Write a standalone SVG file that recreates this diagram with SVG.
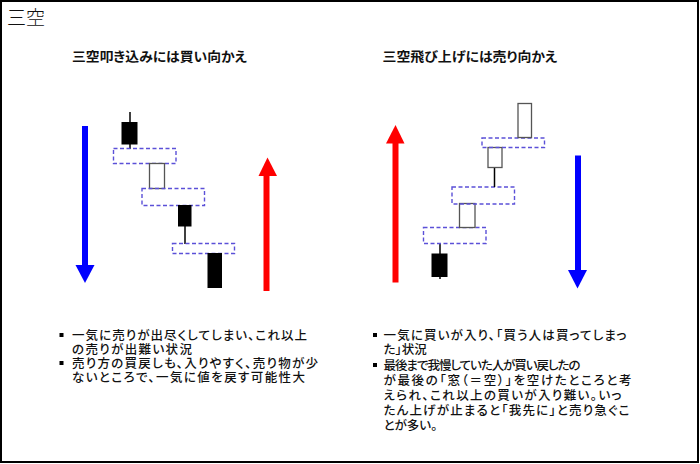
<svg xmlns="http://www.w3.org/2000/svg" width="700" height="464" viewBox="0 0 700 464">
<style>
.t{font-family:"Noto Sans CJK JP","Noto Sans CJK SC",sans-serif;fill:#111;font-feature-settings:"palt"}
.title{font-size:19px;font-weight:300}
.sub{font-size:13px;font-weight:bold}
.body{font-family:"Liberation Sans","Noto Sans CJK JP","Noto Sans CJK SC",sans-serif;font-size:12.5px;font-weight:500}
.gap{fill:none;stroke:#5b50d8;stroke-width:1.4;stroke-dasharray:4 2.5}
.blk{fill:#000;stroke:#000;stroke-width:1}
.wht{fill:#fff;stroke:#555;stroke-width:1.3}
.wick{stroke:#000;stroke-width:1.5}
</style>
<rect x="0" y="0" width="700" height="464" fill="#fff"/>
<rect x="1" y="1" width="697" height="461" fill="none" stroke="#000" stroke-width="2"/>
<text class="t title" x="7" y="25">三空</text>

<g id="left-panel">
<text class="t sub" x="72" y="61" textLength="175" lengthAdjust="spacingAndGlyphs">三空叩き込みには買い向かえ</text>
<g id="L-candle1"><line class="wick" x1="130" y1="112" x2="130" y2="149"/><rect class="blk" x="122" y="122.5" width="15" height="21.5"/></g>
<g id="L-gap1"><rect class="gap" x="113.5" y="148.5" width="62.5" height="15"/></g>
<g id="L-candle2"><rect class="wht" x="149.5" y="163.5" width="15" height="25"/></g>
<g id="L-gap2"><rect class="gap" x="142" y="188.5" width="62.5" height="17"/></g>
<g id="L-candle3"><line class="wick" x1="185" y1="220" x2="185" y2="244"/><rect class="blk" x="178.5" y="205.5" width="12.5" height="20.5"/></g>
<g id="L-gap3"><rect class="gap" x="172.5" y="243.5" width="62" height="10"/></g>
<g id="L-candle4"><rect class="blk" x="208" y="253.5" width="13.5" height="34"/></g>
</g>

<g id="right-panel">
<text class="t sub" x="382.5" y="61" textLength="175" lengthAdjust="spacingAndGlyphs">三空飛び上げには売り向かえ</text>
<g id="R-candle1"><line class="wick" x1="440" y1="243.5" x2="440" y2="279"/><rect class="blk" x="432" y="254" width="15" height="22.5"/></g>
<g id="R-gap1"><rect class="gap" x="423.5" y="227.5" width="62.5" height="16"/></g>
<g id="R-candle2"><rect class="wht" x="459.5" y="203.5" width="15.5" height="24"/></g>
<g id="R-gap2"><rect class="gap" x="452" y="187" width="62.5" height="17"/></g>
<g id="R-candle3"><line class="wick" x1="494.5" y1="167" x2="494.5" y2="187"/><rect class="wht" x="488" y="147.5" width="14" height="20"/></g>
<g id="R-gap3"><rect class="gap" x="482" y="138" width="62.5" height="9.5"/></g>
<g id="R-candle4"><rect class="wht" x="518" y="103.5" width="13.5" height="34"/></g>
</g>

<g id="arrows">
<g id="L-down-arrow"><line x1="85" y1="126" x2="85" y2="266" stroke="#0000ff" stroke-width="6"/><polygon points="75.5,265 94.5,265 85,283" fill="#0000ff"/></g>
<g id="L-up-arrow"><line x1="266.5" y1="291" x2="266.5" y2="175" stroke="#ff0000" stroke-width="6"/><polygon points="258.5,176 277,176 267.5,157.5" fill="#ff0000"/></g>
<g id="R-up-arrow"><line x1="395.5" y1="282.5" x2="395.5" y2="142" stroke="#ff0000" stroke-width="6"/><polygon points="386,143.5 404.5,143.5 395.5,125" fill="#ff0000"/></g>
<g id="R-down-arrow"><line x1="578" y1="155.5" x2="578" y2="271" stroke="#0000ff" stroke-width="6"/><polygon points="568,270 587,270 577.5,288.5" fill="#0000ff"/></g>
</g>

<g id="left-notes">
<rect x="59.5" y="333" width="4" height="4" fill="#000"/>
<rect x="59.5" y="361" width="4" height="4" fill="#000"/>
<text class="t body"><tspan x="72" y="339.5" textLength="235">一気に売りが出尽くしてしまい、これ以上</tspan><tspan x="72" y="353.5" textLength="120">の売りが出難い状況</tspan><tspan x="72" y="367.5" textLength="246">売り方の買戻しも、入りやすく、売り物が少</tspan><tspan x="72" y="381.5" textLength="233">ないところで、一気に値を戻す可能性大</tspan></text>
</g>

<g id="right-notes">
<rect x="373" y="333" width="4" height="4" fill="#000"/>
<rect x="373" y="363" width="4" height="4" fill="#000"/>
<text class="t body"><tspan x="383.5" y="339.5" textLength="243">一気に買いが入り、「買う人は買ってしまっ</tspan><tspan x="383.5" y="354">た」状況</tspan><tspan x="383.5" y="370" textLength="197">最後まで我慢していた人が買い戻したの</tspan><tspan x="383.5" y="385" textLength="248">が最後の「窓（＝空）」を空けたところと考</tspan><tspan x="383.5" y="400" textLength="238">えられ、これ以上の買いが入り難い。いっ</tspan><tspan x="383.5" y="415" textLength="246">たん上げが止まると「我先に」と売り急ぐこ</tspan><tspan x="383.5" y="430">とが多い。</tspan></text>
</g>
</svg>
